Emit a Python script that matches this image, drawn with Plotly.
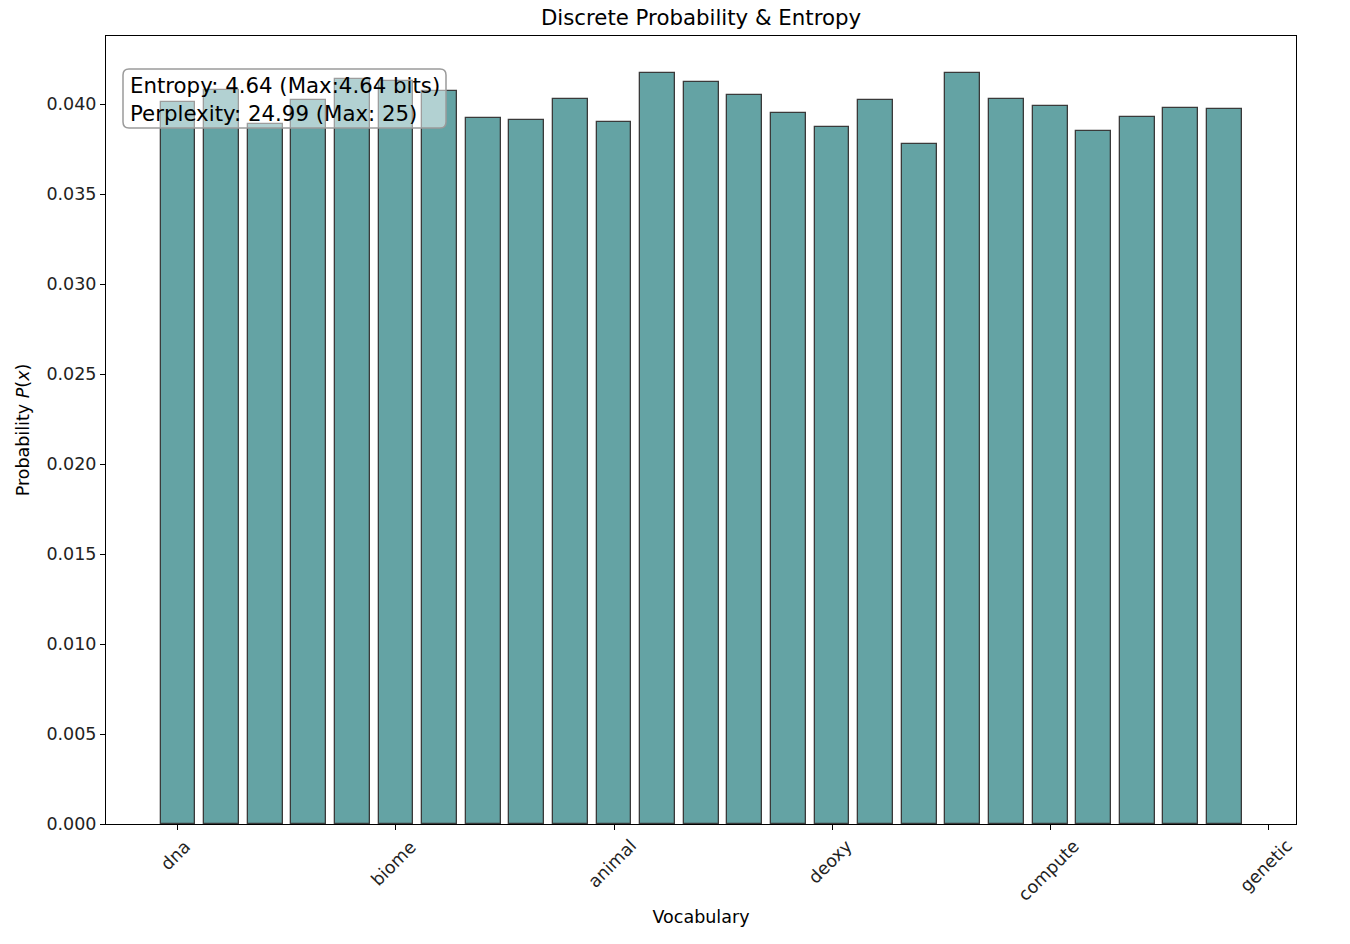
import plotly.graph_objects as go

positions = list(range(25))
probabilities = [0.0401, 0.0408, 0.0389, 0.0402, 0.0414, 0.0413, 0.0407, 0.0392, 0.0391,
                 0.0403, 0.0390, 0.0417, 0.0412, 0.0405, 0.0395, 0.0387, 0.0402, 0.0378,
                 0.0417, 0.0403, 0.0399, 0.0385, 0.0393, 0.0398, 0.0397]
tick_positions = [0, 5, 10, 15, 20, 25]
tick_labels = ["dna", "biome", "animal", "deoxy", "compute", "genetic"]
y_ticks = [0.000, 0.005, 0.010, 0.015, 0.020, 0.025, 0.030, 0.035, 0.040]
info_lines = ["Entropy: 4.64 (Max:4.64 bits)", "Perplexity: 24.99 (Max: 25)"]

FONT = "DejaVu Sans"
W, H = 1350, 944
PL, PR, PT, PB = 106, 1296, 36, 824  # plot area in pixels
L, R, T, B = PL, W - PR, PT, H - PB
PW, PH = PR - PL, PB - PT


def px_to_paper(X, Y):
    return (X - PL) / PW, (PB - Y) / PH


fig = go.Figure()
fig.add_trace(go.Bar(
    x=positions, y=probabilities, width=0.8,
    marker=dict(color="#64A3A4", line=dict(color="#3a3a3a", width=1.3)),
    showlegend=False,
))

fig.update_layout(
    width=W, height=H,
    margin=dict(l=L, r=R, t=T, b=B),
    paper_bgcolor="white", plot_bgcolor="white",
    font=dict(family=FONT, size=17.5, color="black"),
    title=dict(text="Discrete Probability & Entropy", xref="paper", x=0.5, xanchor="center",
               y=1 - 18 / H, yanchor="middle",
               font=dict(size=21.3, family=FONT, color="black")),
    bargap=0,
)

fig.update_xaxes(
    range=[-1.65, 25.64], tickmode="array", tickvals=tick_positions, ticktext=tick_labels,
    showticklabels=False, ticks="outside", ticklen=5, tickwidth=1, tickcolor="black",
    showline=True, linecolor="black", linewidth=1, mirror=True, showgrid=False, zeroline=False,
    title=dict(text="Vocabulary", font=dict(size=17.5, family=FONT), standoff=81),
)
fig.update_yaxes(
    range=[0, 0.04378], tickmode="array", tickvals=y_ticks,
    ticktext=[f"{v:.3f}" for v in y_ticks],
    ticks="outside", ticklen=5, tickwidth=1, tickcolor="black",
    showline=True, linecolor="black", linewidth=1, mirror=True, showgrid=False, zeroline=False,
    tickfont=dict(size=17.5, family=FONT, color="#222"),
    title=dict(text="Probability <i>P</i>(<i>x</i>)", font=dict(size=17.5, family=FONT), standoff=12),
)

# rotated category labels, centred under their ticks (matplotlib style)
for pos, lab in zip(tick_positions, tick_labels):
    fig.add_annotation(
        x=pos, y=0, xref="x", yref="y", text=lab, textangle=-45,
        xanchor="center", yanchor="top", yshift=-11, xshift=-2, showarrow=False, borderpad=0,
        font=dict(size=17.5, family=FONT, color="#222"),
    )

# rounded info box
x0, y1 = px_to_paper(123, 69)
x1, y0 = px_to_paper(446, 128)
rx, ry = 6 / PW, 6 / PH
path = (f"M {x0+rx},{y0} L {x1-rx},{y0} Q {x1},{y0} {x1},{y0+ry} "
        f"L {x1},{y1-ry} Q {x1},{y1} {x1-rx},{y1} L {x0+rx},{y1} Q {x0},{y1} {x0},{y1-ry} "
        f"L {x0},{y0+ry} Q {x0},{y0} {x0+rx},{y0} Z")
fig.add_shape(type="path", path=path, xref="paper", yref="paper",
              fillcolor="rgba(255,255,255,0.5)", line=dict(color="#9a9a9a", width=1.5), layer="above")

tx, ty = px_to_paper(129, 72)
fig.add_annotation(
    xref="paper", yref="paper", x=tx, y=ty,
    xanchor="left", yanchor="top", align="left", showarrow=False,
    text="<br>".join(info_lines),
    font=dict(size=21.3, family=FONT, color="black"), borderpad=0,
)

fig.write_html("out.html", config={"displayModeBar": False},
               post_script="document.body.style.margin='0px';")
